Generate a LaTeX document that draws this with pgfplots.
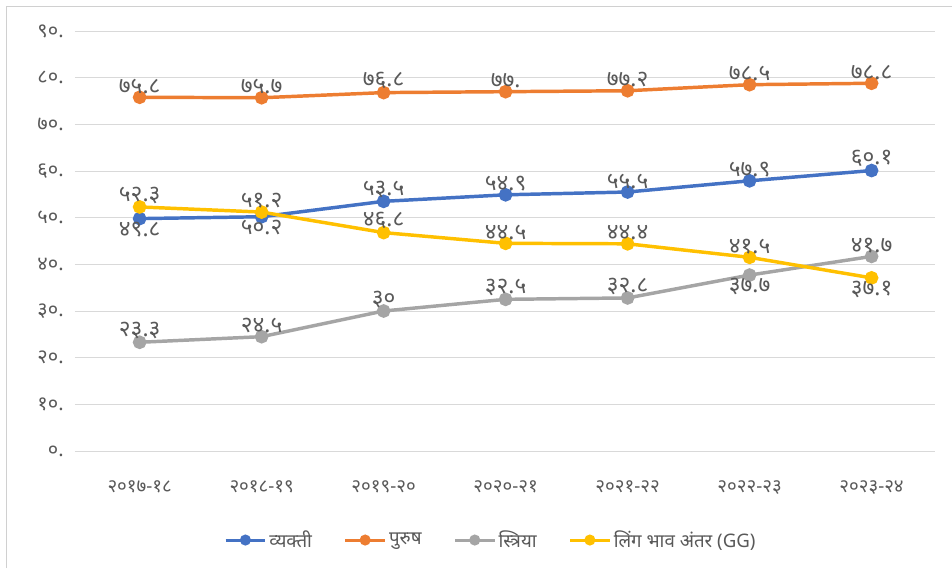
\documentclass[border=0pt]{standalone}
\usepackage{fontspec}
\setmainfont{Noto Sans}[Script=Devanagari]
\usepackage{pgfplots}
\pgfplotsset{compat=1.18}
\definecolor{cblue}{HTML}{4472C4}
\definecolor{corange}{HTML}{ED7D31}
\definecolor{cgrey}{HTML}{A5A5A5}
\definecolor{cyellow}{HTML}{FFC000}
\definecolor{gridc}{HTML}{D9D9D9}
\definecolor{txtc}{HTML}{595959}
\definecolor{framec}{HTML}{D0D0D0}

\pgfplotsset{
  ser/.style={color=#1, line width=2.6pt, mark=*, mark size=3.8pt, mark options={fill=#1}},
  lbl/.style={
    forget plot, draw=none, mark=none,
    nodes near coords,
    point meta=explicit symbolic,
    every node near coord/.append style={anchor=#1, font=\fontsize{17}{19}\selectfont, text=txtc, inner sep=2.5pt},
  }
}

\begin{document}
\begin{tikzpicture}
\path[use as bounding box] (-56.25pt,-87.75pt) rectangle (657.75pt,338.25pt);
\begin{axis}[
  at={(0,0)}, anchor=south west,
  scale only axis, width=645pt, height=315pt,
  xmin=-0.53, xmax=6.52, ymin=0, ymax=90,
  ytick={0,10,...,90},
  yticklabels={०.,१०.,२०.,३०.,४०.,५०.,६०.,७०.,८०.,९०.},
  xtick={0,...,6},
  xticklabels={२०१७-१८,२०१८-१९,२०१९-२०,२०२०-२१,२०२१-२२,२०२२-२३,२०२३-२४},
  ymajorgrids, grid style={draw=gridc, line width=0.75pt},
  axis line style={draw=none}, major tick length=0pt,
  xticklabel style={font=\fontsize{14}{16}\selectfont, text=txtc, yshift=-19pt},
  yticklabel style={font=\fontsize{15}{17}\selectfont, text=txtc, xshift=-5pt},
  clip=false,
  legend columns=4,
  legend style={draw=none, at={(0.484,-0.212)}, anchor=center,
    font=\fontsize{14}{16}\selectfont, text=txtc,
    /tikz/every even column/.append style={column sep=22pt}},
  legend image code/.code={
    \draw[mark repeat=2, mark phase=2, line width=2.2pt, mark size=3pt, #1] plot coordinates {(0cm,0cm) (0.52cm,0cm) (1.04cm,0cm)};
  },
]
% व्यक्ती
\addplot[ser=cblue] coordinates {(0,49.8) (1,50.2) (2,53.5) (3,54.9) (4,55.5) (5,57.9) (6,60.1)};
\addlegendentry{व्यक्ती}
% पुरुष
\addplot[ser=corange] coordinates {(0,75.8) (1,75.7) (2,76.8) (3,77.0) (4,77.2) (5,78.5) (6,78.8)};
\addlegendentry{पुरुष}
% स्त्रिया
\addplot[ser=cgrey] coordinates {(0,23.3) (1,24.5) (2,30.0) (3,32.5) (4,32.8) (5,37.7) (6,41.7)};
\addlegendentry{स्त्रिया}
% लिंग भाव अंतर
\addplot[ser=cyellow] coordinates {(0,52.3) (1,51.2) (2,46.8) (3,44.5) (4,44.4) (5,41.5) (6,37.1)};
\addlegendentry{लिंग भाव अंतर (GG)}
% data labels
\addplot[lbl=north] coordinates {(0,49.8) [४९.८] (1,50.2) [५०.२]};
\addplot[lbl=south] coordinates {(2,53.5) [५३.५] (3,54.9) [५४.९] (4,55.5) [५५.५] (5,57.9) [५७.९] (6,60.1) [६०.१]};
\addplot[lbl=south] coordinates {(0,75.8) [७५.८] (1,75.7) [७५.७] (2,76.8) [७६.८] (3,77.0) [७७.] (4,77.2) [७७.२] (5,78.5) [७८.५] (6,78.8) [७८.८]};
\addplot[lbl=south] coordinates {(0,23.3) [२३.३] (1,24.5) [२४.५] (2,30.0) [३०] (3,32.5) [३२.५] (4,32.8) [३२.८] (6,41.7) [४१.७]};
\addplot[lbl=north] coordinates {(5,37.7) [३७.७]};
\addplot[lbl=south] coordinates {(0,52.3) [५२.३] (1,51.2) [५१.२] (2,46.8) [४६.८] (3,44.5) [४४.५] (4,44.4) [४४.४] (5,41.5) [४१.५]};
\addplot[lbl=north] coordinates {(6,37.1) [३७.१]};
\end{axis}
\draw[framec, line width=0.75pt] (-51pt,-87.75pt) -- (-51pt,333pt) -- (657.75pt,333pt);
\end{tikzpicture}
\end{document}
